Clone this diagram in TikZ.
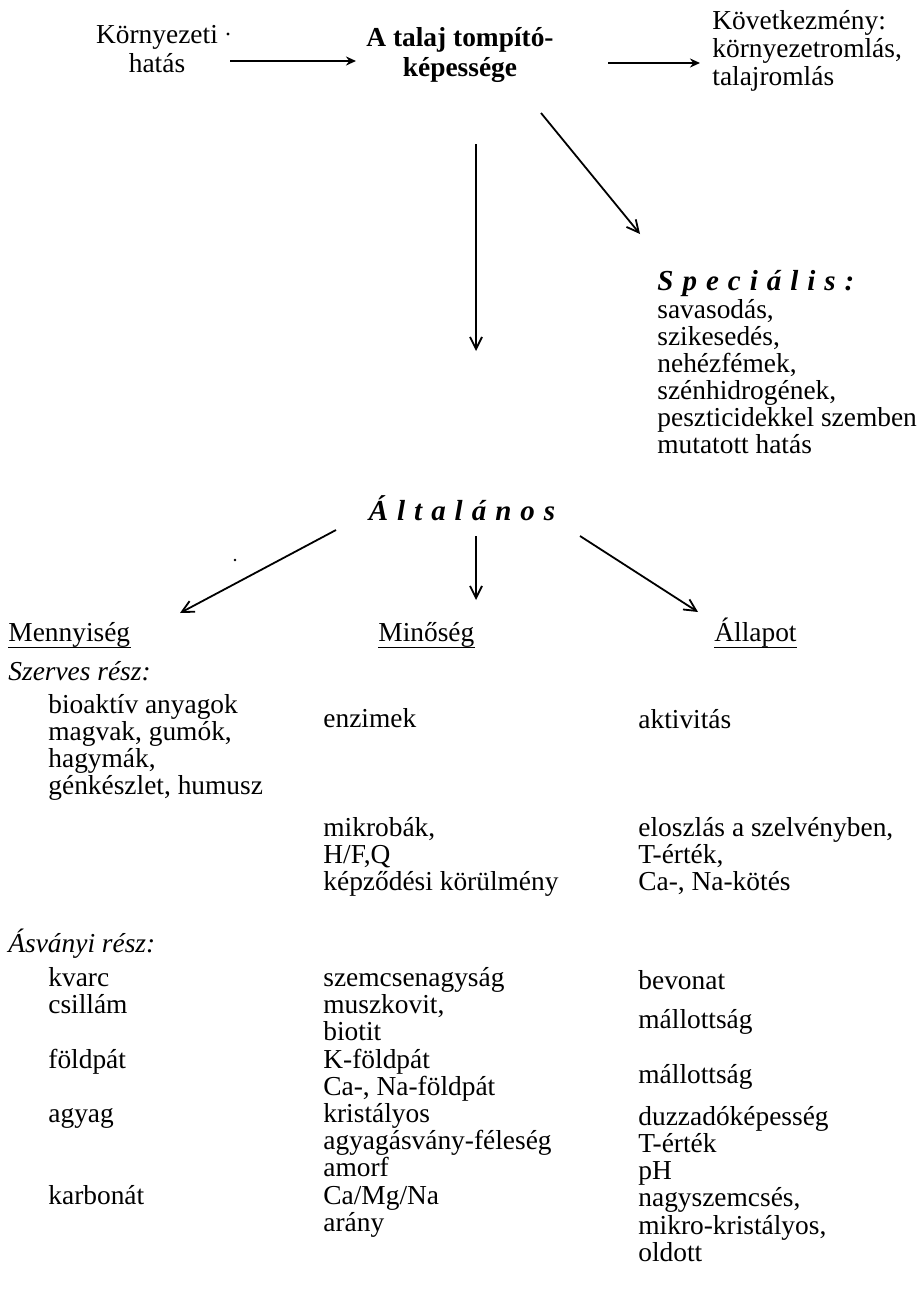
\documentclass[tikz,border=0pt]{standalone}
\usepackage{fontspec}
\setmainfont{Liberation Serif}
\usetikzlibrary{arrows.meta}
\newcommand\mylsp{\kern 4.5pt}
\begin{document}
\begin{tikzpicture}[x=0.5pt,y=-0.5pt,
  txt/.style={anchor=base west,inner sep=0pt,font=\fontsize{13.7}{13}\selectfont},
  ctxt/.style={anchor=base,inner sep=0pt,font=\fontsize{13.7}{13}\selectfont},
  ttl/.style={anchor=base,inner sep=0pt,font=\fontsize{13.7}{13}\selectfont\bfseries},
  head/.style={anchor=base west,inner sep=0pt,font=\fontsize{14.5}{14}\selectfont\bfseries\itshape},
  sub/.style={anchor=base west,inner sep=0pt,font=\fontsize{13.7}{13}\selectfont\itshape},
  toparr/.style={line width=1.3pt,-{Stealth[length=5pt,width=4.5pt]}},
  arr/.style={line width=0.9pt,-{Straight Barb[length=6pt,width=6pt]}},
  uline/.style={line width=0.7pt}]
\useasboundingbox (0,0) rectangle (924,1295);

% top row
\node[ctxt] (korny) at (157,44) {Környezeti};
\node[ctxt] (hatas) at (157,73) {hatás};
\fill (228,34) circle (0.8pt);
\node[ttl] (ttl1) at (460,47) {A talaj tompító-};
\node[ttl] (ttl2) at (460,76) {képessége};
\node[txt] (kov1) at (712,30) {Következmény:};
\node[txt] (kov2) at (712,58) {környezetromlás,};
\node[txt] (kov3) at (712,86) {talajromlás};

\coordinate (a1s) at (230,61);
\coordinate (a1e) at (356,61);
\coordinate (a2s) at (608,63);
\coordinate (a2e) at (700,63);
\draw[toparr] (a1s) -- (a1e);
\draw[toparr] (a2s) -- (a2e);

\coordinate (vs) at (476,144);
\coordinate (ve) at (476,351);
\coordinate (ds) at (541,113);
\coordinate (de) at (640,234);
\draw[arr] (vs) -- (ve);
\draw[arr] (ds) -- (de);

% special
\node[head] (spec) at (657,290) {S\mylsp p\mylsp e\mylsp c\mylsp i\mylsp á\mylsp l\mylsp i\mylsp s\mylsp :};
\foreach \lbl/\yy [count=\i] in {{savasodás,}/318,{szikesedés,}/345,{nehézfémek,}/372,{szénhidrogének,}/399,{peszticidekkel szemben}/426,{mutatott hatás}/453}
  \node[txt] (spec\i) at (657,\yy) {\lbl};

% general
\node[head,anchor=base] (alt) at (462,520) {Á\mylsp l\mylsp t\mylsp a\mylsp l\mylsp á\mylsp n\mylsp o\mylsp s};
\fill (235,560) circle (0.7pt);
\coordinate (g1s) at (336,530);
\coordinate (g1e) at (180,613);
\coordinate (g2s) at (476,536);
\coordinate (g2e) at (476,600);
\coordinate (g3s) at (580,536);
\coordinate (g3e) at (698,612);
\draw[arr] (g1s) -- (g1e);
\draw[arr] (g2s) -- (g2e);
\draw[arr] (g3s) -- (g3e);

\node[txt] (hmen) at (8,641) {Mennyiség};
\node[txt] (hmin) at (378,641) {Minőség};
\node[txt] (hall) at (714,641) {Állapot};
\draw[uline] ([yshift=-3.2pt]hmen.base west) -- ([yshift=-3.2pt]hmen.base east);
\draw[uline] ([yshift=-3.2pt]hmin.base west) -- ([yshift=-3.2pt]hmin.base east);
\draw[uline] ([yshift=-3.2pt]hall.base west) -- ([yshift=-3.2pt]hall.base east);

% organic
\node[sub] (szerv) at (8,680) {Szerves rész:};
\foreach \lbl/\yy [count=\i] in {{bioaktív anyagok}/713,{magvak, gumók,}/740,{hagymák,}/767,{génkészlet, humusz}/794}
  \node[txt] (org\i) at (48,\yy) {\lbl};
\node[txt] (enz) at (323,727) {enzimek};
\node[txt] (akt) at (638,728) {aktivitás};
\foreach \lbl/\yy [count=\i] in {{mikrobák,}/836,{H/F,Q}/863,{képződési körülmény}/890}
  \node[txt] (mik\i) at (323,\yy) {\lbl};
\foreach \lbl/\yy [count=\i] in {{eloszlás a szelvényben,}/836,{T-érték,}/863,{Ca-, Na-kötés}/890}
  \node[txt] (elo\i) at (638,\yy) {\lbl};

% mineral
\node[sub] (asv) at (8,952) {Ásványi rész:};
\foreach \lbl/\yy [count=\i] in {kvarc/986,csillám/1013,földpát/1068,agyag/1122,karbonát/1204}
  \node[txt] (ml\i) at (48,\yy) {\lbl};
\foreach \lbl/\yy [count=\i] in {szemcsenagyság/986,{muszkovit,}/1013,biotit/1040,K-földpát/1068,{Ca-, Na-földpát}/1095,kristályos/1122,agyagásvány-féleség/1149,amorf/1176,{Ca/Mg/Na}/1204,arány/1231}
  \node[txt] (mm\i) at (323,\yy) {\lbl};
\foreach \lbl/\yy [count=\i] in {bevonat/989,mállottság/1028,mállottság/1083,duzzadóképesség/1125,T-érték/1152,pH/1179,{nagyszemcsés,}/1206,{mikro-kristályos,}/1234,oldott/1261}
  \node[txt] (mr\i) at (638,\yy) {\lbl};
\end{tikzpicture}
\end{document}
